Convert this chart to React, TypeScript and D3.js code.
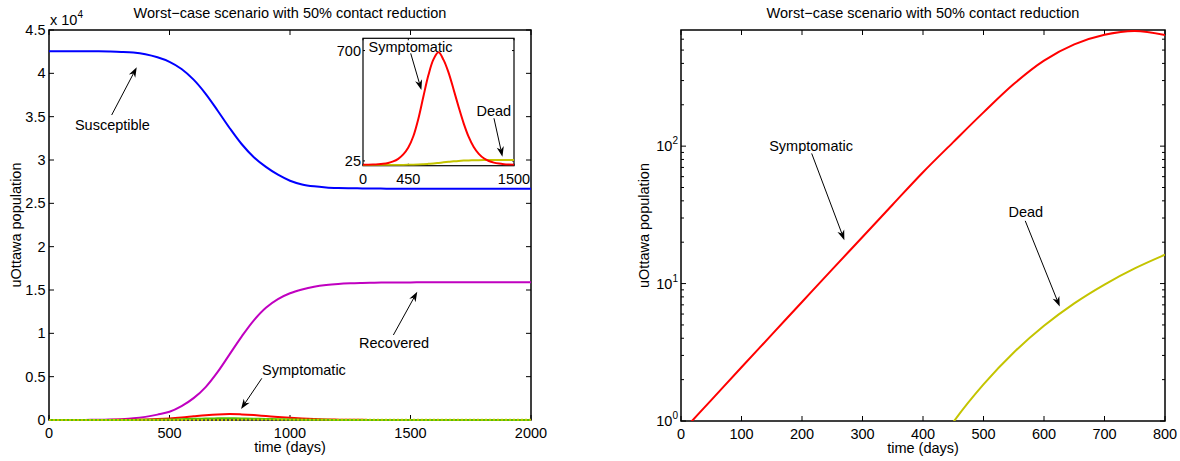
import * as d3 from 'd3'

// time grid (days) shared by every series
const days = [0, 50, 100, 150, 200, 250, 300, 350, 400, 450, 500, 550, 600, 650, 700, 750, 800, 850, 900, 950,
  1000, 1050, 1100, 1150, 1200, 1250, 1300, 1350, 1400, 1450, 1500, 1550, 1600, 1650, 1700, 1750, 1800, 1850, 1900, 1950, 2000]

const susceptible = [42560, 42559, 42556, 42550, 42538, 42515, 42475, 42395, 42200, 41850, 41330, 40500, 39270, 37638, 35688, 33668,
  31818, 30318, 29200, 28300, 27610, 27180, 26960, 26840, 26780, 26748, 26725, 26708, 26696, 26687, 26681, 26677, 26674, 26672,
  26671, 26670, 26670, 26670, 26670, 26670, 26670]

const recovered = [0, 2, 6, 12, 24, 50, 100, 190, 360, 620, 950, 1600, 2520, 3800, 5550, 7600, 9650, 11500, 12950, 13950,
  14620, 15060, 15380, 15580, 15700, 15770, 15810, 15840, 15858, 15870, 15878, 15883, 15886, 15888, 15889, 15890, 15890, 15890,
  15890, 15890, 15890]

const symptomatic = [0.82, 1.42, 2.46, 4.25, 7.35, 12.7, 21.8, 37.6, 64.6, 107, 176, 283, 419, 550, 646, 689, 643, 565, 462, 355,
  255, 172, 110, 68, 41, 24.5, 14.5, 8.5, 5, 3, 1.8, 1.1, 0.65, 0.4, 0.24, 0.14, 0.08, 0.05, 0.03, 0.02, 0.01]

const asymptomatic = [0.3, 0.5, 0.9, 1.5, 2.6, 4.5, 8, 14, 24, 38, 60, 92, 130, 165, 190, 198, 185, 158, 125, 92,
  64, 42, 27, 17, 10, 6, 3.5, 2, 1.2, 0.7, 0.4, 0.25, 0.15, 0.1, 0.06, 0.04, 0.02, 0.01, 0.01, 0, 0]

const dead = [0, 0.005, 0.01, 0.015, 0.02, 0.04, 0.09, 0.2, 0.45, 0.98, 1.845, 3.15, 4.93, 7.18, 9.84, 12.88, 16.2, 19.5, 22.5, 25,
  26.8, 28.1, 29, 29.6, 30, 30.2, 30.35, 30.45, 30.5, 30.5, 30.5, 30.5, 30.5, 30.5, 30.5, 30.5, 30.5, 30.5, 30.5, 30.5, 30.5]

const leftXTicks = [0, 500, 1000, 1500, 2000]
const leftYTicks = [0, 0.5, 1, 1.5, 2, 2.5, 3, 3.5, 4, 4.5]
const insetXTicks = [0, 450, 1500]
const insetYTicks = [25, 700]
const rightXTicks = [0, 100, 200, 300, 400, 500, 600, 700, 800]
const rightYMajor = [1, 10, 100]
const rightYMinor = [2, 3, 4, 5, 6, 7, 8, 9, 20, 30, 40, 50, 60, 70, 80, 90, 200, 300, 400, 500, 600]

const TITLE = 'Worst\u2212case scenario with 50% contact reduction'
const FONT = '"Liberation Sans", Arial, Helvetica, sans-serif'
const FS = 14.5

const C = {
  blue: '#0000ff',
  magenta: '#c000c0',
  red: '#ff0000',
  green: '#55c000',
  yellow: '#c4c400',
}

// label annotations in data coordinates: text centre, arrow tail, arrow head
const leftNotes = [
  { text: 'Susceptible', tx: 263, ty: 34040, ax: 260, ay: 35190, bx: 364, by: 40700 },
  { text: 'Recovered', tx: 1432, ty: 8885, ax: 1429, ay: 9807, bx: 1528, by: 14800 },
  { text: 'Symptomatic', tx: 1058, ty: 5770, ax: 883, ay: 4810, bx: 797, by: 1270 },
]
const insetNotes = [
  { text: 'Symptomatic', tx: 472, ty: 724, ax: 474, ay: 683, bx: 580, by: 459 },
  { text: 'Dead', tx: 1300, ty: 330, ax: 1301, ay: 286, bx: 1385, by: 51 },
]
const rightNotes = [
  { text: 'Symptomatic', tx: 215, ty: 100, ax: 216, ay: 88.5, bx: 270, by: 20.7 },
  { text: 'Dead', tx: 570, ty: 33, ax: 569, ay: 28.6, bx: 626, by: 6.8 },
]

function Arrow({ x1, y1, x2, y2 }: { x1: number; y1: number; x2: number; y2: number }) {
  const a = Math.atan2(y2 - y1, x2 - x1)
  const L = 10, hw = 3.6, back = 3
  const ca = Math.cos(a), sa = Math.sin(a)
  const bx = x2 - L * ca, by = y2 - L * sa
  const ix = x2 - (L - back) * ca, iy = y2 - (L - back) * sa
  const p1 = [bx - hw * sa, by + hw * ca]
  const p2 = [bx + hw * sa, by - hw * ca]
  return (
    <g>
      <line x1={x1} y1={y1} x2={ix} y2={iy} stroke="black" strokeWidth={1} />
      <path d={`M${x2},${y2}L${p1[0]},${p1[1]}L${ix},${iy}L${p2[0]},${p2[1]}Z`} fill="black" />
    </g>
  )
}

export default function App() {
  const W = 1180, H = 461

  // left main panel
  const lx = d3.scaleLinear().domain([0, 2000]).range([49, 531])
  const ly = d3.scaleLinear().domain([0, 45000]).range([420, 30])
  // inset
  const ix = d3.scaleLinear().domain([0, 1500]).range([363, 514])
  const iy = d3.scaleLinear().domain([0, 775]).range([165, 38.3])
  // right log panel
  const rx = d3.scaleLinear().domain([0, 800]).range([681, 1165])
  const ry = d3.scaleLog().domain([1, 700]).range([421, 30])

  const curve = d3.curveCatmullRom.alpha(0.5)
  const lineL = (vals: number[]) =>
    d3.line<number>().x((_, i) => lx(days[i])).y(v => ly(v)).curve(curve)(vals) || ''
  const lineI = (vals: number[]) =>
    d3.line<number>().defined((_, i) => days[i] <= 1500).x((_, i) => ix(days[i])).y(v => iy(v)).curve(curve)(vals) || ''
  const lineR = (vals: number[]) => {
    const pts = days.map((t, i) => [t, vals[i]] as [number, number]).filter(p => p[0] <= 800 && p[1] > 0)
    return d3.line<[number, number]>().x(p => rx(p[0])).y(p => ry(p[1])).curve(curve)(pts) || ''
  }

  const [lx0, lx1] = lx.range()
  const [ly0, ly1] = ly.range()
  const [ix0, ix1] = ix.range()
  const iyb = 165.7, iyt = 38.3
  const [rx0, rx1] = rx.range()
  const [ry0, ry1] = ry.range()
  const tk = 5

  return (
    <svg width={W} height={H} style={{ position: 'absolute', left: 0, top: 0, background: 'white' }}
      fontFamily={FONT} fontSize={FS}>
      <defs>
        <clipPath id="clipL"><rect x={lx0 - 2} y={ly1 - 2} width={lx1 - lx0 + 4} height={ly0 - ly1 + 4} /></clipPath>
        <clipPath id="clipI"><rect x={ix0} y={iyt} width={ix1 - ix0} height={iyb - iyt} /></clipPath>
        <clipPath id="clipR"><rect x={rx0} y={ry1} width={rx1 - rx0} height={ry0 - ry1} /></clipPath>
      </defs>

      {/* ---------- left panel ---------- */}
      <text x={(lx0 + lx1) / 2} y={18} textAnchor="middle">{TITLE}</text>
      <text x={50} y={25}>x 10<tspan dy={-7} fontSize={10}>4</tspan></text>
      <rect x={lx0} y={ly1} width={lx1 - lx0} height={ly0 - ly1} fill="none" stroke="black" strokeWidth={1.5} />
      {leftXTicks.map(t => (
        <g key={'lxt' + t}>
          <line x1={lx(t)} x2={lx(t)} y1={ly0} y2={ly0 - tk} stroke="black" />
          <line x1={lx(t)} x2={lx(t)} y1={ly1} y2={ly1 + tk} stroke="black" />
          <text x={lx(t)} y={ly0 + 18} textAnchor="middle">{t}</text>
        </g>
      ))}
      {leftYTicks.map(v => (
        <g key={'lyt' + v}>
          <line x1={lx0} x2={lx0 + tk} y1={ly(v * 1e4)} y2={ly(v * 1e4)} stroke="black" />
          <line x1={lx1} x2={lx1 - tk} y1={ly(v * 1e4)} y2={ly(v * 1e4)} stroke="black" />
          <text x={lx0 - 3.5} y={ly(v * 1e4)} dy="0.35em" textAnchor="end">{v}</text>
        </g>
      ))}
      <text transform={`translate(16,${(ly0 + ly1) / 2}) rotate(-90)`} textAnchor="middle" dy="0.35em">uOttawa population</text>
      <text x={(lx0 + lx1) / 2} y={452} textAnchor="middle">time (days)</text>
      <g clipPath="url(#clipL)" fill="none" strokeWidth={2}>
        <path d={lineL(susceptible)} stroke={C.blue} />
        <path d={lineL(recovered)} stroke={C.magenta} />
        <path d={lineL(symptomatic)} stroke={C.red} />
        <path d={lineL(asymptomatic)} stroke={C.green} />
        <path d={lineL(dead)} stroke={C.yellow} strokeDasharray="2 2" />
      </g>
      {leftNotes.map(n => (
        <g key={'ln' + n.text}>
          <text x={lx(n.tx)} y={ly(n.ty)} dy="0.35em" textAnchor="middle">{n.text}</text>
          <Arrow x1={lx(n.ax)} y1={ly(n.ay)} x2={lx(n.bx)} y2={ly(n.by)} />
        </g>
      ))}

      {/* ---------- inset ---------- */}
      <rect x={ix0} y={iyt} width={ix1 - ix0} height={iyb - iyt} fill="white" stroke="black" strokeWidth={1.2} />
      {insetXTicks.map(t => (
        <g key={'ixt' + t}>
          <line x1={ix(t)} x2={ix(t)} y1={iyb} y2={iyb - 2} stroke="black" />
          <line x1={ix(t)} x2={ix(t)} y1={iyt} y2={iyt + 2} stroke="black" />
          <text x={ix(t)} y={184} textAnchor="middle">{t}</text>
        </g>
      ))}
      {insetYTicks.map(v => (
        <g key={'iyt' + v}>
          <line x1={ix0} x2={ix0 + 2} y1={iy(v)} y2={iy(v)} stroke="black" />
          <line x1={ix1} x2={ix1 - 2} y1={iy(v)} y2={iy(v)} stroke="black" />
          <text x={ix0 - 2} y={iy(v)} dy="0.35em" textAnchor="end">{v}</text>
        </g>
      ))}
      <g clipPath="url(#clipI)" fill="none" strokeWidth={2}>
        <path d={lineI(dead)} stroke={C.yellow} />
        <path d={lineI(symptomatic)} stroke={C.red} />
      </g>
      {insetNotes.map(n => (
        <g key={'in' + n.text}>
          <text x={ix(n.tx)} y={iy(n.ty)} dy="0.35em" textAnchor="middle">{n.text}</text>
          <Arrow x1={ix(n.ax)} y1={iy(n.ay)} x2={ix(n.bx)} y2={iy(n.by)} />
        </g>
      ))}

      {/* ---------- right panel ---------- */}
      <text x={(rx0 + rx1) / 2} y={18} textAnchor="middle">{TITLE}</text>
      <rect x={rx0} y={ry1} width={rx1 - rx0} height={ry0 - ry1} fill="none" stroke="black" strokeWidth={1.5} />
      {rightXTicks.map(t => (
        <g key={'rxt' + t}>
          <line x1={rx(t)} x2={rx(t)} y1={ry0} y2={ry0 - tk} stroke="black" />
          <line x1={rx(t)} x2={rx(t)} y1={ry1} y2={ry1 + tk} stroke="black" />
          <text x={rx(t)} y={ry0 + 18} textAnchor="middle">{t}</text>
        </g>
      ))}
      {rightYMajor.map((v, i) => (
        <g key={'rym' + v}>
          <line x1={rx0} x2={rx0 + tk} y1={ry(v)} y2={ry(v)} stroke="black" />
          <line x1={rx1} x2={rx1 - tk} y1={ry(v)} y2={ry(v)} stroke="black" />
          <text x={rx0 - 3} y={ry(v)} dy="0.35em" textAnchor="end">10<tspan dy={-7} fontSize={10}>{i}</tspan></text>
        </g>
      ))}
      {rightYMinor.map(v => (
        <g key={'ryn' + v}>
          <line x1={rx0} x2={rx0 + 3} y1={ry(v)} y2={ry(v)} stroke="black" />
          <line x1={rx1} x2={rx1 - 3} y1={ry(v)} y2={ry(v)} stroke="black" />
        </g>
      ))}
      <text transform={`translate(644,${(ry0 + ry1) / 2}) rotate(-90)`} textAnchor="middle" dy="0.35em">uOttawa population</text>
      <text x={(rx0 + rx1) / 2} y={453} textAnchor="middle">time (days)</text>
      <g clipPath="url(#clipR)" fill="none" strokeWidth={2}>
        <path d={lineR(symptomatic)} stroke={C.red} />
        <path d={lineR(dead)} stroke={C.yellow} />
      </g>
      {rightNotes.map(n => (
        <g key={'rn' + n.text}>
          <text x={rx(n.tx)} y={ry(n.ty)} dy="0.35em" textAnchor="middle">{n.text}</text>
          <Arrow x1={rx(n.ax)} y1={ry(n.ay)} x2={rx(n.bx)} y2={ry(n.by)} />
        </g>
      ))}
    </svg>
  )
}
